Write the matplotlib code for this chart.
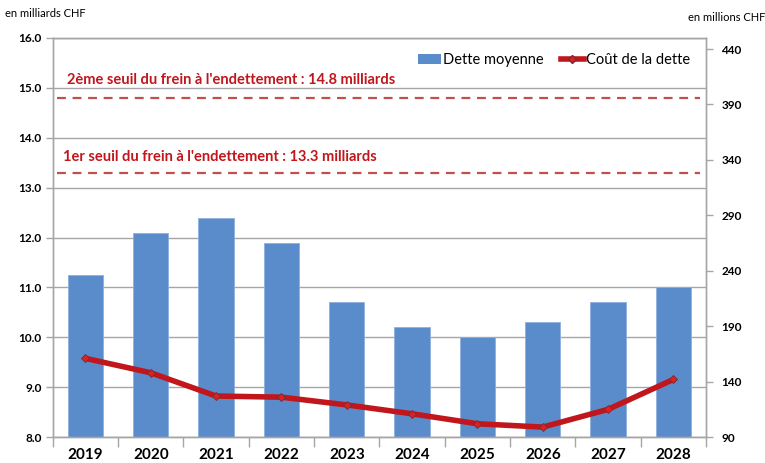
import numpy as np
import matplotlib.pyplot as plt
from matplotlib.lines import Line2D
from matplotlib.patches import Patch

plt.rcParams['font.family'] = ['Lato', 'DejaVu Sans']

years = ['2019', '2020', '2021', '2022', '2023', '2024', '2025', '2026', '2027', '2028']
dette_moyenne = [11.25, 12.1, 12.4, 11.9, 10.7, 10.2, 10.0, 10.3, 10.7, 11.0]   # milliards CHF
cout_dette = [161, 148, 127, 126, 119, 111, 102, 99, 115, 142]                # millions CHF
seuil_1 = 13.3
seuil_2 = 14.8

bar_color = '#5A8BCB'
red = '#C0161C'
grid_color = '#A6A6A6'

fig = plt.figure(figsize=(7.65, 4.63), dpi=100)
ax = fig.add_axes([0.069, 0.056, 0.854, 0.862])
ax2 = ax.twinx()

x = np.arange(len(years))
ax.bar(x, dette_moyenne, width=0.54, color=bar_color, edgecolor='#8DB0DC',
       linewidth=0.6, zorder=2)

# threshold lines + their labels
ax.axhline(seuil_2, xmin=0.006, xmax=0.99, color='#C0504D', ls=(0, (4, 3)), lw=1.6, zorder=3)
ax.axhline(seuil_1, xmin=0.006, xmax=0.99, color='#C0504D', ls=(0, (4, 3)), lw=1.6, zorder=3)
ax.text(-0.29, 15.16, "2ème seuil du frein à l'endettement : 14.8 milliards",
        color=red, fontsize=10.5, fontweight='bold', va='center', ha='left')
ax.text(-0.35, 13.62, "1er seuil du frein à l'endettement : 13.3 milliards",
        color=red, fontsize=10.5, fontweight='bold', va='center', ha='left')

ax.set_xlim(-0.5, len(years) - 0.5)
ax.set_ylim(8, 16)
ax.set_yticks(np.arange(8, 16.1, 1))
ax.set_yticklabels([f'{v:.1f}' for v in np.arange(8, 16.1, 1)], fontsize=8.5, fontweight='bold')
ax.yaxis.grid(True, color=grid_color, lw=1.0, zorder=0)
ax.set_axisbelow(True)

ax.set_xticks(x)
ax.set_xticklabels(years, fontsize=11, fontweight='bold')
ax.tick_params(axis='x', length=0, pad=8)
ax.set_xticks(np.arange(-0.5, len(years), 1), minor=True)
ax.tick_params(axis='x', which='minor', length=7, color=grid_color, width=1)
ax.tick_params(axis='y', length=5, color=grid_color, width=1, pad=3)

# cost of debt on secondary axis
ax2.plot(x, cout_dette, color=red, lw=4, zorder=4, solid_capstyle='round',
         marker='D', markersize=4.5, markerfacecolor='#E0201F', markeredgecolor='#7A2A30',
         markeredgewidth=0.6)
ax2.set_ylim(90, 450)
ax2.set_yticks(np.arange(90, 441, 50))
ax2.set_yticklabels([str(v) for v in range(90, 441, 50)], fontsize=8.5, fontweight='bold')
ax2.tick_params(axis='y', length=5, color=grid_color, width=1, pad=6)

for a in (ax, ax2):
    for s in a.spines.values():
        s.set_color(grid_color)
        s.set_linewidth(1.0)

fig.text(0.007, 0.970, 'en milliards CHF', fontsize=8, ha='left', va='center')
fig.text(0.900, 0.962, 'en millions CHF', fontsize=8, ha='left', va='center')

handles = [Patch(facecolor=bar_color, edgecolor='none'),
           Line2D([0], [0], color=red, lw=4, marker='D', markersize=4.5,
                  markerfacecolor='#E0201F', markeredgecolor='#7A2A30')]
ax2.legend(handles, ['Dette moyenne', 'Coût de la dette'], loc='upper right',
           bbox_to_anchor=(0.995, 0.995), ncol=2, frameon=False, fontsize=10.5,
           handlelength=1.6, handletextpad=0.1, columnspacing=1.2)

fig.savefig('out.png', dpi=100)
